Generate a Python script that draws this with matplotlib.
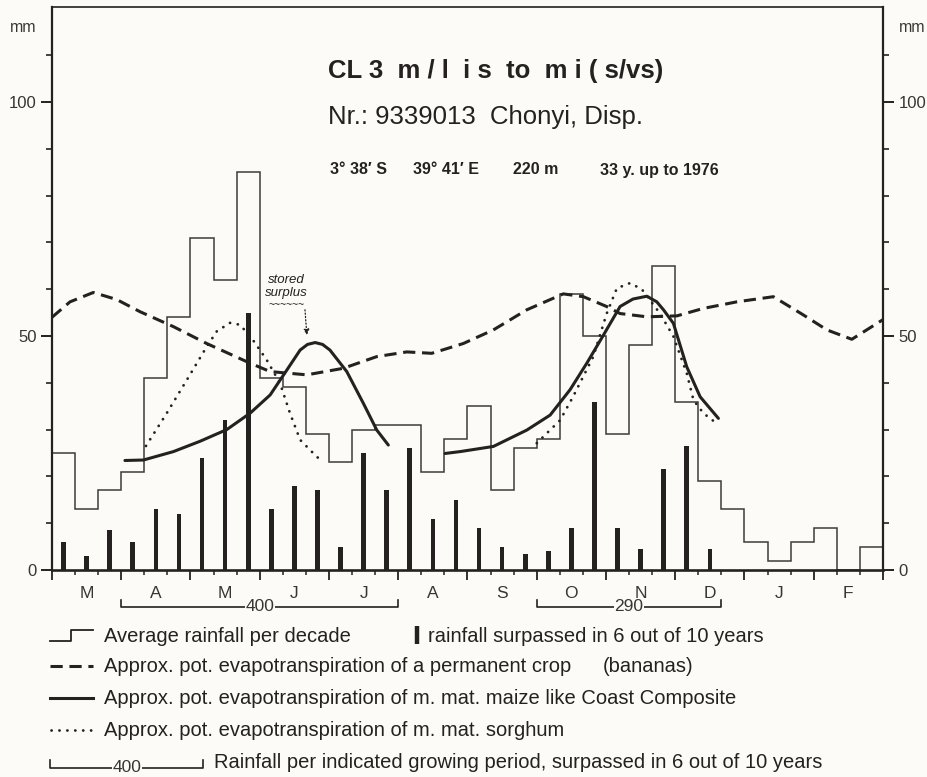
#!/usr/bin/env python3
"""
Rainfall / evapotranspiration diagram for station 9339013 Chonyi (Kenya coast).

Decade (10-day) rainfall as a step line, the rainfall surpassed in 6 out of
10 years as thick bars, and approximate potential evapotranspiration curves
for bananas, maize and sorghum. Months run from March to February.
"""

import numpy as np
import matplotlib.pyplot as plt

# ---------------------------------------------------------------------------
# Data (x in decades from 1 March, 3 decades per month, y in mm)
# ---------------------------------------------------------------------------
months = ['M', 'A', 'M', 'J', 'J', 'A', 'S', 'O', 'N', 'D', 'J', 'F']

# average rainfall per decade
rain_avg = [25, 13, 17, 21, 41, 54, 71, 62, 85,
            41, 39, 29, 23, 30, 31, 31, 21, 28,
            35, 17, 26, 28, 59, 50, 29, 48, 65,
            36, 19, 13, 6, 2, 6, 9, 0, 5]

# rainfall surpassed in 6 out of 10 years
rain_p60 = [6, 3, 8.5, 6, 13, 12, 24, 32, 55,
            13, 18, 17, 5, 25, 17, 26, 11, 15,
            9, 5, 3.5, 4, 9, 36, 9, 4.5, 21.5,
            26.5, 4.5, 0, 0, 0, 0, 0, 0, 0]

# pot. evapotranspiration of a permanent crop (bananas)
banana_x = [0, 0.78, 1.79, 2.8, 3.81, 5.26, 6.7, 8.58, 9.45, 11.04, 12.62,
            14.07, 15.37, 16.45, 17.82, 19.12, 20.57, 22.15, 23.02, 24.03,
            24.61, 25.77, 27.07, 28.22, 29.67, 31.25, 32.55, 33.57, 34.65, 36]
banana_y = [54, 57.3, 59.3, 57.8, 55.2, 52, 48.4, 44.2, 42.4, 41.7, 43.1,
            45.6, 46.6, 46.3, 48.4, 51.3, 55.6, 59, 58.4, 56.3,
            54.8, 54.1, 54.3, 55.9, 57.3, 58.4, 54.5, 51.3, 49.3, 53.5]

# pot. evapotranspiration of medium maturing maize (two seasons)
maize1_x = [3.16, 3.96, 5.26, 6.41, 7.57, 8.58, 9.45, 10.17, 10.75, 11.07,
            11.4, 11.72, 12.04, 12.77, 13.49, 14.07, 14.57]
maize1_y = [23.4, 23.5, 25.3, 27.5, 30.0, 33.5, 37.4, 42.7, 47.0, 48.2,
            48.6, 48.2, 47.0, 42.4, 35.6, 29.9, 26.7]
maize2_x = [17.03, 17.68, 19.12, 20.57, 21.58, 22.44, 23.17, 23.89, 24.61,
            25.17, 25.77, 26.2, 26.49, 26.92, 27.5, 28.08, 28.87]
maize2_y = [24.9, 25.3, 26.4, 29.9, 33.1, 38.5, 44.2, 50.2, 56.3,
            57.9, 58.5, 57.3, 55.6, 52.7, 43.4, 37.0, 32.4]

# pot. evapotranspiration of medium maturing sorghum (two seasons)
sorghum1_x = [4.07, 4.97, 5.84, 6.7, 7.14, 7.71, 8.15, 8.71, 9.3, 9.88,
              10.31, 10.75, 11.31, 11.75]
sorghum1_y = [26.5, 33.5, 40.6, 47.7, 51.0, 52.8, 52.4, 49.1, 44.9, 39.9,
              33.5, 27.8, 25.0, 22.9]
sorghum2_x = [21.0, 22.01, 22.57, 23.45, 24.03, 24.47, 25.04, 25.55, 26.34,
              26.92, 27.5, 27.79, 28.22, 28.8]
sorghum2_y = [27.1, 32.0, 37.0, 45.6, 54.8, 60.2, 61.3, 60.0, 54.8,
              49.9, 42.0, 36.3, 33.5, 31.3]

# growing periods (start decade, end decade, rainfall surpassed 6/10 years)
periods = [(3, 15, 400), (21, 29, 290)]

INK = '#262121'
GREY = '#3a3535'
PAPER = '#fcfbf7'


def plot_diagram(output_file='out.png'):
    plt.rcParams['font.family'] = ['Liberation Sans', 'DejaVu Sans']

    fig = plt.figure(figsize=(9.28, 7.77), dpi=100, facecolor=PAPER)
    W, H = 928, 777

    # main axes placed to match the reference frame
    ax = fig.add_axes([52 / W, 1 - 570 / H, (883 - 52) / W, (570 - 7) / H])
    ax.set_facecolor(PAPER)
    ax.set_xlim(0, 36)
    ax.set_ylim(0, 120.3)

    # average rainfall per decade (step line)
    edges = np.arange(len(rain_avg) + 1)
    ax.stairs(rain_avg, edges, baseline=None, color='#403a3a', linewidth=1.1, zorder=2)

    # rainfall surpassed in 6 out of 10 years (thick bars)
    centers = edges[:-1] + 0.5
    ax.bar(centers, rain_p60, width=0.2, color=INK, linewidth=0, zorder=3)

    # evapotranspiration curves
    ax.plot(banana_x, banana_y, color=INK, linewidth=2.2, dashes=(4, 2.2), zorder=4)
    for xs, ys in [(maize1_x, maize1_y), (maize2_x, maize2_y)]:
        ax.plot(xs, ys, color=INK, linewidth=2.2, solid_capstyle='round',
                solid_joinstyle='round', zorder=5)
    for xs, ys in [(sorghum1_x, sorghum1_y), (sorghum2_x, sorghum2_y)]:
        ax.plot(xs, ys, color=INK, linewidth=2.0, linestyle=(0, (0.05, 2.8)),
                dash_capstyle='round', zorder=4)

    # stored surplus annotation
    ax.annotate('', xy=(11.05, 49.6), xytext=(10.95, 56.2),
                arrowprops=dict(arrowstyle='-|>', color=INK, lw=0.9, linestyle=':',
                                mutation_scale=8))
    ax.text(10.15, 60.6, 'stored\nsurplus', fontsize=9.5, style='italic',
            color=INK, ha='center', va='center', linespacing=1.05)
    ax.text(10.15, 56.6, '~~~~~~', fontsize=7.5, color=INK, ha='center', va='center')

    # spines and ticks
    for side, lw in [('left', 1.6), ('right', 1.6), ('bottom', 1.9), ('top', 1.2)]:
        ax.spines[side].set_linewidth(lw)
        ax.spines[side].set_color(INK)

    ax.set_yticks([0, 50, 100])
    ax.set_yticks([10, 20, 30, 40, 60, 70, 80, 90, 110], minor=True)
    ax.set_xticks(np.arange(0, 37, 3))
    ax.set_xticks(np.arange(0, 37), minor=True)
    ax.tick_params(axis='y', which='both', direction='out', left=True, right=True,
                   labelleft=True, labelright=True, colors=INK, labelcolor=GREY,
                   labelsize=12, pad=3)
    ax.tick_params(axis='y', which='major', length=8, width=1.4)
    ax.tick_params(axis='y', which='minor', length=4, width=1.2)
    ax.tick_params(axis='x', which='both', direction='out', labelbottom=False, colors=INK)
    ax.tick_params(axis='x', which='major', length=7, width=1.3)
    ax.tick_params(axis='x', which='minor', length=3.5, width=1.1)

    # month labels under the middle of each month
    for i, m in enumerate(months):
        ax.text(3 * i + 1.5, -5.1, m, fontsize=12.5, color=GREY,
                ha='center', va='center', clip_on=False)

    # growing period brackets
    for start, end, total in periods:
        ax.plot([start, start, end, end], [-6.4, -7.8, -7.8, -6.4], color=INK,
                linewidth=1.2, clip_on=False)
        ax.text((start + end) / 2, -7.9, str(total), fontsize=12.5, color=GREY,
                ha='center', va='center', clip_on=False,
                bbox=dict(facecolor=PAPER, edgecolor='none', pad=0.5))

    # overlay in pixel coordinates for titles and legend
    ov = fig.add_axes([0, 0, 1, 1], zorder=10)
    ov.set_xlim(0, W)
    ov.set_ylim(H, 0)
    ov.axis('off')

    ov.text(23, 28, 'mm', fontsize=11.5, color=GREY, ha='center', va='center')
    ov.text(912, 28, 'mm', fontsize=11.5, color=GREY, ha='center', va='center')

    ov.text(328, 71, 'CL 3  m / l  i s  to  m i ( s/vs)', fontsize=18.5,
            fontweight='bold', color=INK, ha='left', va='center')
    ov.text(328, 117, 'Nr.: 9339013  Chonyi, Disp.', fontsize=18.5,
            color=INK, ha='left', va='center')
    for x, s in [(330, '3° 38′ S'), (413, '39° 41′ E'), (513, '220 m'),
                 (600, '33 y. up to 1976')]:
        ov.text(x, 170, s, fontsize=11.5, fontweight='bold', color=INK,
                ha='left', va='center')

    # legend
    leg_size = 14.5
    txt_x = 104
    # row 1: step line + bars
    ov.plot([50, 71, 71, 93], [641, 641, 630, 630], color=INK, linewidth=1.3)
    ov.text(txt_x, 636, 'Average rainfall per decade', fontsize=leg_size,
            color=INK, ha='left', va='center')
    ov.plot([417, 417], [626, 644], color=INK, linewidth=3.2, solid_capstyle='butt')
    ov.text(428, 636, 'rainfall surpassed in 6 out of 10 years', fontsize=leg_size,
            color=INK, ha='left', va='center')
    # row 2: bananas
    ov.plot([50, 93], [666, 666], color=INK, linewidth=2.2, dashes=(4, 2.2))
    ov.text(txt_x, 666, 'Approx. pot. evapotranspiration of a permanent crop',
            fontsize=leg_size, color=INK, ha='left', va='center')
    ov.text(603, 666, '(bananas)', fontsize=leg_size, color=INK, ha='left', va='center')
    # row 3: maize
    ov.plot([50, 93], [698, 698], color=INK, linewidth=2.2)
    ov.text(txt_x, 698, 'Approx. pot. evapotranspiration of m. mat. maize like Coast Composite',
            fontsize=leg_size, color=INK, ha='left', va='center')
    # row 4: sorghum
    ov.plot([51, 93], [730, 730], color=INK, linewidth=2.0,
            linestyle=(0, (0.05, 2.8)), dash_capstyle='round')
    ov.text(txt_x, 730, 'Approx. pot. evapotranspiration of m. mat. sorghum',
            fontsize=leg_size, color=INK, ha='left', va='center')
    # row 5: growing period bracket
    ov.plot([50, 50, 203, 203], [760, 768, 768, 760], color=INK, linewidth=1.2)
    ov.text(127, 767, '400', fontsize=12.5, color=GREY, ha='center', va='center',
            bbox=dict(facecolor=PAPER, edgecolor='none', pad=0.5))
    ov.text(214, 762, 'Rainfall per indicated growing period, surpassed in 6 out of 10 years',
            fontsize=leg_size, color=INK, ha='left', va='center')

    fig.savefig(output_file, dpi=100, facecolor=PAPER)
    plt.close(fig)


def main():
    plot_diagram('out.png')
    return 0


if __name__ == '__main__':
    exit(main())
